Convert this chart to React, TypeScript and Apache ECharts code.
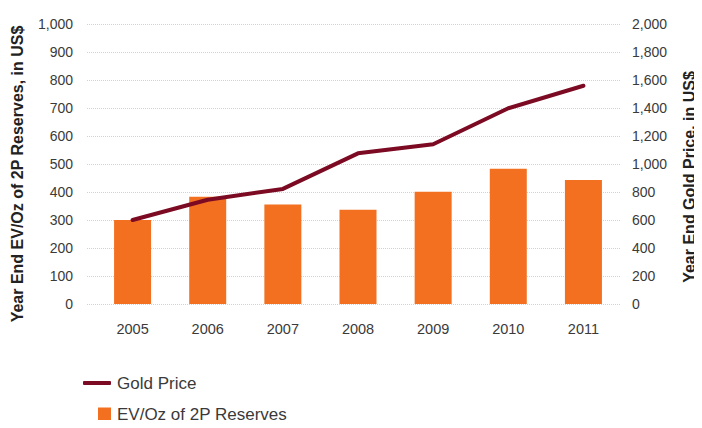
import React, { useEffect, useRef } from "react";
import * as echarts from "echarts";

const years = ["2005", "2006", "2007", "2008", "2009", "2010", "2011"];
const evPerOz = [300, 383, 355, 337, 401, 483, 443];
const goldPrice = [600, 745, 822, 1076, 1141, 1398, 1559];
const leftTicks = { min: 0, max: 1000, interval: 100 };
const rightTicks = { min: 0, max: 2000, interval: 200 };

const FONT = "'Liberation Sans', Arial, Helvetica, sans-serif";
const BAR_COLOR = "#f37021";
const LINE_COLOR = "#7b0a22";
const TEXT_COLOR = "#3a3a3a";

export default function App() {
  const ref = useRef<HTMLDivElement>(null);

  useEffect(() => {
    if (!ref.current) return;
    const chart = echarts.init(ref.current, null, { renderer: "svg" });
    const fmt = (v: number) => v.toLocaleString("en-US");
    chart.setOption({
      animation: false,
      textStyle: { fontFamily: FONT },
      grid: [
        { left: 87, right: 81, top: 24, bottom: 124 },
        { left: 95, right: 81, top: 24, bottom: 124 },
      ],
      xAxis: [
        { gridIndex: 0, type: "value", min: 0, max: 1, show: false },
        {
          gridIndex: 1,
          type: "category",
          data: years,
          axisLine: { show: false },
          axisTick: { show: false },
          axisLabel: { margin: 17, fontSize: 14.5, color: TEXT_COLOR, fontFamily: FONT },
        },
      ],
      yAxis: [
        {
          gridIndex: 0,
          type: "value",
          ...leftTicks,
          position: "left",
          axisLine: { show: false },
          axisTick: { show: false },
          axisLabel: { margin: 14, fontSize: 14, color: TEXT_COLOR, fontFamily: FONT, formatter: fmt },
          splitLine: { show: true, lineStyle: { color: "#d9d0c7", width: 1, type: [1, 1] } },
        },
        {
          gridIndex: 0,
          type: "value",
          ...rightTicks,
          position: "right",
          axisLine: { show: false },
          axisTick: { show: false },
          axisLabel: { margin: 11, fontSize: 14, color: TEXT_COLOR, fontFamily: FONT, formatter: fmt },
          splitLine: { show: false },
        },
        { gridIndex: 1, type: "value", ...leftTicks, show: false, splitLine: { show: false } },
        { gridIndex: 1, type: "value", ...rightTicks, show: false, splitLine: { show: false } },
      ],
      legend: [
        {
          data: [{ name: "Gold Price", icon: "roundRect" }],
          left: 83,
          top: 373,
          padding: 0,
          itemWidth: 28,
          itemHeight: 4,
          itemGap: 0,
          textStyle: { fontSize: 17, color: TEXT_COLOR, fontFamily: FONT, lineHeight: 20, padding: [0, 0, 0, 1] },
        },
        {
          data: [{ name: "EV/Oz of 2P Reserves", icon: "rect" }],
          left: 98,
          top: 404,
          padding: 0,
          itemWidth: 13,
          itemHeight: 13,
          textStyle: { fontSize: 17, color: TEXT_COLOR, fontFamily: FONT, lineHeight: 20, padding: [0, 0, 0, 1] },
        },
      ],
      graphic: [
        {
          type: "text",
          x: 17,
          y: 174,
          rotation: Math.PI / 2,
          style: {
            text: "Year End EV/Oz of 2P Reserves, in US$",
            font: `bold 16px ${FONT}`,
            fill: "#222",
            align: "center",
            verticalAlign: "middle",
          },
        },
        {
          type: "text",
          x: 689,
          y: 177,
          rotation: Math.PI / 2,
          style: {
            text: "Year End Gold Price, in US$",
            font: `bold 16px ${FONT}`,
            fill: "#222",
            align: "center",
            verticalAlign: "middle",
          },
        },
      ],
      series: [
        {
          name: "EV/Oz of 2P Reserves",
          type: "bar",
          xAxisIndex: 1,
          yAxisIndex: 2,
          data: evPerOz,
          barWidth: 37,
          itemStyle: { color: BAR_COLOR },
        },
        {
          name: "Gold Price",
          type: "line",
          xAxisIndex: 1,
          yAxisIndex: 3,
          data: goldPrice,
          showSymbol: false,
          symbol: "none",
          z: 5,
          itemStyle: { color: LINE_COLOR },
          lineStyle: { color: LINE_COLOR, width: 4, cap: "round" },
        },
      ],
    });
    return () => chart.dispose();
  }, []);

  return <div ref={ref} style={{ width: 702, height: 428, margin: -8 }} />;
}
